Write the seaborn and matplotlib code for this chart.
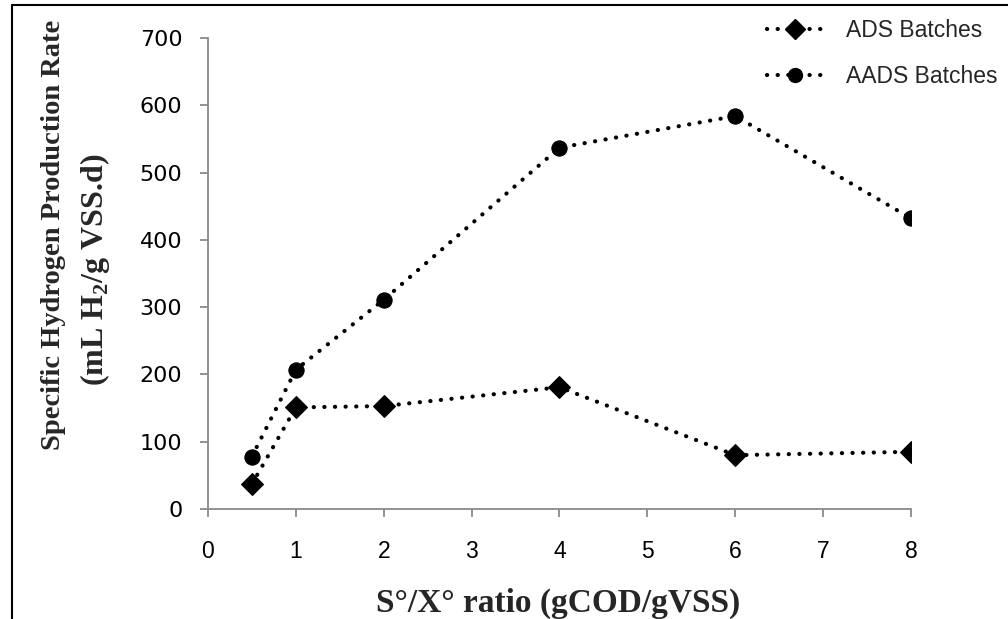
import matplotlib
matplotlib.use("Agg")
import matplotlib.pyplot as plt
import seaborn as sns
import pandas as pd
from matplotlib.lines import Line2D

ratio = [0.5, 1, 2, 4, 6, 8]
ads = [37, 151, 153, 181, 80, 85]
aads = [78, 207, 311, 537, 584, 432]
series_names = ["ADS Batches", "AADS Batches"]
x_ticks = [0, 1, 2, 3, 4, 5, 6, 7, 8]
y_ticks = [0, 100, 200, 300, 400, 500, 600, 700]

sns.set_theme(style="white")
plt.rcParams["font.family"] = ["DejaVu Sans"]
plt.rcParams["mathtext.fontset"] = "custom"
plt.rcParams["mathtext.rm"] = "Liberation Serif:bold"
plt.rcParams["mathtext.bf"] = "Liberation Serif:bold"

df = pd.DataFrame({
    "ratio": ratio * 2,
    "rate": ads + aads,
    "series": [series_names[0]] * len(ratio) + [series_names[1]] * len(ratio),
})

fig = plt.figure(figsize=(10.08, 6.19), dpi=100)
ax = fig.add_axes([0.2063, 0.1777, 0.6975, 0.7609])

dot = (0, (0.05, 2.5))
markers = {"ADS Batches": "D", "AADS Batches": "o"}
msize = {"ADS Batches": 11, "AADS Batches": 11}
for name in series_names:
    sub = df[df["series"] == name]
    sns.lineplot(data=sub, x="ratio", y="rate", ax=ax, color="black",
                 linewidth=3.0, linestyle=dot, marker=markers[name],
                 markersize=msize[name], markeredgecolor="black",
                 legend=False, sort=False)
for ln in ax.get_lines():
    ln.set_dash_capstyle("round")

ax.set_xlim(0, 8)
ax.set_ylim(0, 700)
ax.set_xticks(x_ticks)
ax.set_yticks(y_ticks)
ax.set_xticklabels([str(v) for v in x_ticks], family="Liberation Sans", fontsize=16.5)
ax.set_yticklabels([str(v) for v in y_ticks], family="DejaVu Sans", fontsize=16)
for s in ["top", "right"]:
    ax.spines[s].set_visible(False)
for s in ["left", "bottom"]:
    ax.spines[s].set_color("#8a8a8a")
    ax.spines[s].set_linewidth(1.3)
ax.tick_params(axis="both", which="both", direction="out", length=5.5, width=1.3,
               color="#8a8a8a", labelcolor="black", bottom=True, left=True)
ax.tick_params(axis="x", pad=17)
ax.tick_params(axis="y", pad=13)
ax.set_xlabel("")
ax.set_ylabel("")

fig.text(0.5536, 0.026, "S°/X° ratio (gCOD/gVSS)", family="Liberation Serif",
         weight="bold", fontsize=24, ha="center", va="center")
fig.text(0.053, 0.620, "Specific Hydrogen Production Rate", family="Liberation Serif",
         weight="bold", fontsize=20.5, ha="center", va="center", rotation=90)
fig.text(0.094, 0.564, r"(mL H$_2$/g VSS.d)", family="Liberation Serif",
         weight="bold", fontsize=23, ha="center", va="center", rotation=90)

handles = [Line2D([0], [0], color="black", linewidth=3.0, linestyle=dot,
                  dash_capstyle="round", marker=markers[n], markersize=msize[n] - 1)
           for n in series_names]
fig.legend(handles, series_names, loc="upper left", bbox_to_anchor=(0.752, 0.984),
           frameon=False, handlelength=2.4, numpoints=1, labelspacing=0.98,
           prop={"family": "Liberation Sans", "size": 16.5}, borderaxespad=0.0,
           handletextpad=1.05)

fig.add_artist(Line2D([0.012, 0.012], [0, 0.992], transform=fig.transFigure,
                      color="black", linewidth=1.5))
fig.add_artist(Line2D([0.012, 1.0], [0.992, 0.992], transform=fig.transFigure,
                      color="black", linewidth=1.5))

fig.savefig("out.png", dpi=100)
